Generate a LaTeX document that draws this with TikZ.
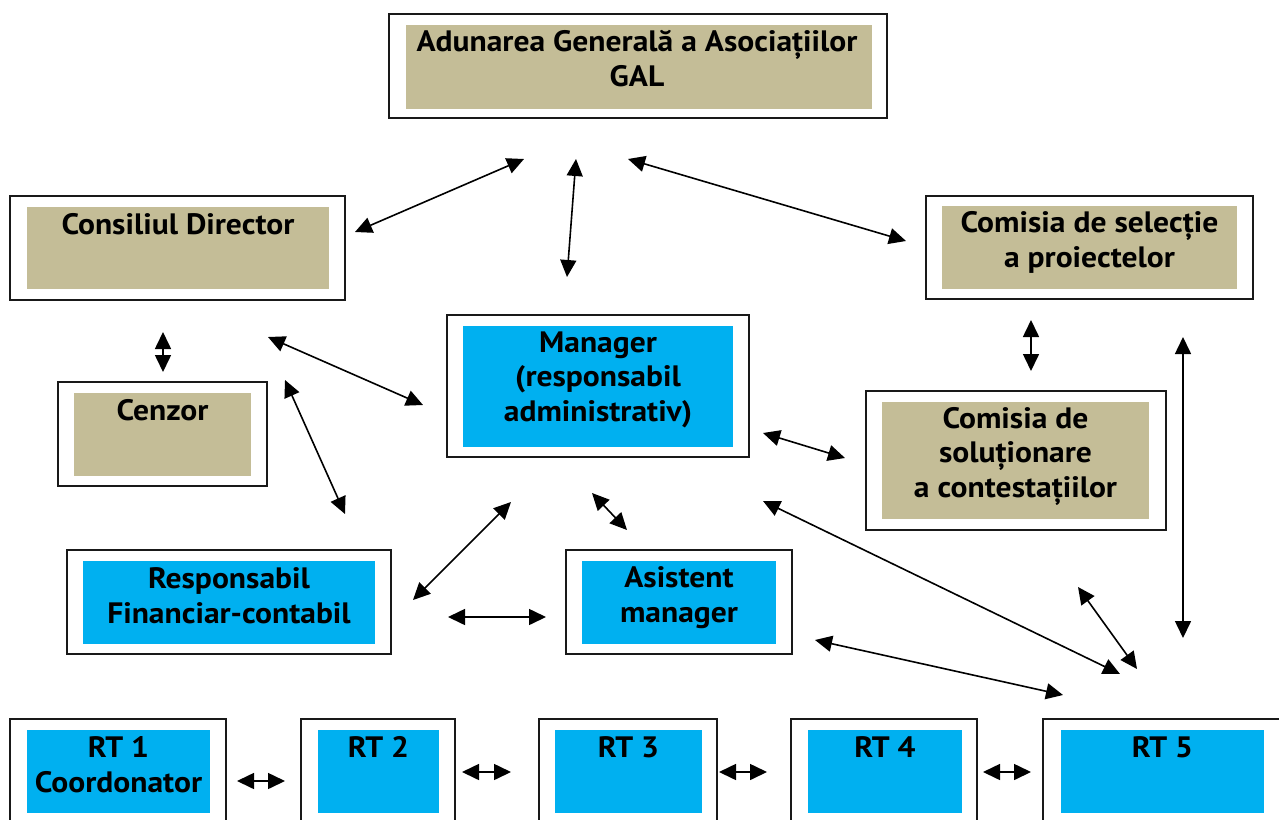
\documentclass[tikz,border=0pt]{standalone}
\usepackage{fontspec}
\setmainfont{PT Sans}[FakeStretch=1.07]
\usetikzlibrary{arrows.meta}
\definecolor{galtan}{HTML}{C4BD97}
\definecolor{galblue}{HTML}{00B0F0}
\tikzset{
  frame/.style={draw=black!90, line width=1.5pt, fill=white, inner sep=0pt},
  tanbox/.style={fill=galtan, inner sep=0pt},
  bluebox/.style={fill=galblue, inner sep=0pt},
  lbl/.style={font=\bfseries\fontsize{29.5}{34.5}\selectfont, align=center, inner sep=0pt, anchor=base},
  link/.style={{Triangle[length=17pt,width=16pt]}-{Triangle[length=17pt,width=16pt]}, line width=1.6pt},
}
\begin{document}
\begin{tikzpicture}[x=1pt, y=-1pt]
      \clip (0,0) rectangle (1279,819);
      % boxes
      \node[frame, minimum width=498pt, minimum height=104pt] (aga) at (638,66) {};
      \node[tanbox, minimum width=466pt, minimum height=84pt] (aga-in) at (639,67) {};
      \node[frame, minimum width=335pt, minimum height=104pt] (cd) at (177.5,248) {};
      \node[tanbox, minimum width=302pt, minimum height=82pt] (cd-in) at (178,248) {};
      \node[frame, minimum width=209pt, minimum height=104pt] (cz) at (162.5,434) {};
      \node[tanbox, minimum width=177pt, minimum height=83pt] (cz-in) at (162.5,434.5) {};
      \node[frame, minimum width=327pt, minimum height=103pt] (cs) at (1089.5,247.5) {};
      \node[tanbox, minimum width=295pt, minimum height=83pt] (cs-in) at (1089.5,247.5) {};
      \node[frame, minimum width=300pt, minimum height=139pt] (cc) at (1016,460.5) {};
      \node[tanbox, minimum width=267pt, minimum height=117pt] (cc-in) at (1015.5,460.5) {};
      \node[frame, minimum width=302pt, minimum height=142pt] (mgr) at (598,386) {};
      \node[bluebox, minimum width=270pt, minimum height=121pt] (mgr-in) at (598,386.5) {};
      \node[frame, minimum width=324pt, minimum height=104pt] (rf) at (229,602) {};
      \node[bluebox, minimum width=292pt, minimum height=83pt] (rf-in) at (229,602.5) {};
      \node[frame, minimum width=226pt, minimum height=104pt] (am) at (679,602) {};
      \node[bluebox, minimum width=194pt, minimum height=83pt] (am-in) at (679,602.5) {};
      \node[frame, minimum width=216pt, minimum height=121pt] (rt1) at (118,779.5) {};
      \node[bluebox, minimum width=183pt, minimum height=83pt] (rt1-in) at (118.5,771.5) {};
      \node[frame, minimum width=154pt, minimum height=121pt] (rt2) at (378,779.5) {};
      \node[bluebox, minimum width=121pt, minimum height=83pt] (rt2-in) at (378.5,771.5) {};
      \node[frame, minimum width=178pt, minimum height=121pt] (rt3) at (628,779.5) {};
      \node[bluebox, minimum width=147pt, minimum height=83pt] (rt3-in) at (628.5,771.5) {};
      \node[frame, minimum width=186pt, minimum height=121pt] (rt4) at (884,779.5) {};
      \node[bluebox, minimum width=154pt, minimum height=83pt] (rt4-in) at (885,771.5) {};
      \node[frame, minimum width=247pt, minimum height=121pt] (rt5) at (1166.5,779.5) {};
      \node[bluebox, minimum width=203pt, minimum height=83pt] (rt5-in) at (1162.5,771.5) {};
      % labels (base = last line)
      \node[lbl] (aga-t) at (637,86) {Adunarea Generală a Asociațiilor\\GAL};
      \node[lbl] (cd-t) at (178,234) {Consiliul Director};
      \node[lbl] (cz-t) at (162.5,420) {Cenzor};
      \node[lbl] (cs-t) at (1089.5,267) {Comisia de selecție\\a proiectelor};
      \node[lbl] (cc-t) at (1015.5,497) {Comisia de\\soluționare\\a contestațiilor};
      \node[lbl] (mgr-t) at (598,421) {Manager\\(responsabil\\administrativ)};
      \node[lbl] (rf-t) at (229,623) {Responsabil\\Financiar-contabil};
      \node[lbl] (am-t) at (679,622) {Asistent\\manager};
      \node[lbl] (rt1-t) at (118.5,792) {RT 1\\Coordonator};
      \node[lbl] (rt2-t) at (378.5,757) {RT 2};
      \node[lbl] (rt3-t) at (628.5,757) {RT 3};
      \node[lbl] (rt4-t) at (885,757) {RT 4};
      \node[lbl] (rt5-t) at (1162.5,757) {RT 5};
      % arrow ends
      \path
        (355,232) coordinate (cd-ne)    (524,159) coordinate (aga-sw)
        (576,159) coordinate (aga-s)    (567,277) coordinate (mgr-n)
        (628,159) coordinate (aga-se)   (906,241) coordinate (cs-w)
        (163,332) coordinate (cd-s)     (163,372) coordinate (cz-n)
        (268,337) coordinate (cd-se)    (423,405) coordinate (mgr-w)
        (285,380) coordinate (cz-ne)    (345,514) coordinate (rf-n)
        (1031,320) coordinate (cs-s)    (1031,371) coordinate (cc-n)
        (1183,337) coordinate (cs-se)   (1183,638) coordinate (rt5-n)
        (763,433) coordinate (mgr-e)    (845,458) coordinate (cc-w)
        (763,501) coordinate (mgr-se)   (1120,674) coordinate (rt5-nw)
        (511,502) coordinate (mgr-sw)   (413,600) coordinate (rf-e)
        (592,493) coordinate (mgr-s)    (627,530) coordinate (am-n)
        (448,617) coordinate (rf-ee)    (546,617) coordinate (am-w)
        (1078,587) coordinate (cc-s)    (1137,669) coordinate (rt5-nn)
        (815,640) coordinate (am-e)     (1063,695) coordinate (rt5-w)
        (237,781) coordinate (rt1-e)    (285,781) coordinate (rt2-w)
        (462,772) coordinate (rt2-e)    (511,772) coordinate (rt3-w)
        (719,772) coordinate (rt3-e)    (767,772) coordinate (rt4-w)
        (983,772) coordinate (rt4-e)    (1031,772) coordinate (rt5-ww);
      \begin{scope}[link]
        \draw (cd-ne) to (aga-sw);
        \draw (aga-s) to (mgr-n);
        \draw (aga-se) to (cs-w);
        \draw (cd-s) to (cz-n);
        \draw (cd-se) to (mgr-w);
        \draw (cz-ne) to (rf-n);
        \draw (cs-s) to (cc-n);
        \draw (cs-se) to (rt5-n);
        \draw (mgr-e) to (cc-w);
        \draw (mgr-se) to (rt5-nw);
        \draw (mgr-sw) to (rf-e);
        \draw (mgr-s) to (am-n);
        \draw (rf-ee) to (am-w);
        \draw (cc-s) to (rt5-nn);
        \draw (am-e) to (rt5-w);
        \draw (rt1-e) to (rt2-w);
        \draw (rt2-e) to (rt3-w);
        \draw (rt3-e) to (rt4-w);
        \draw (rt4-e) to (rt5-ww);
      \end{scope}
    \end{tikzpicture}
\end{document}
